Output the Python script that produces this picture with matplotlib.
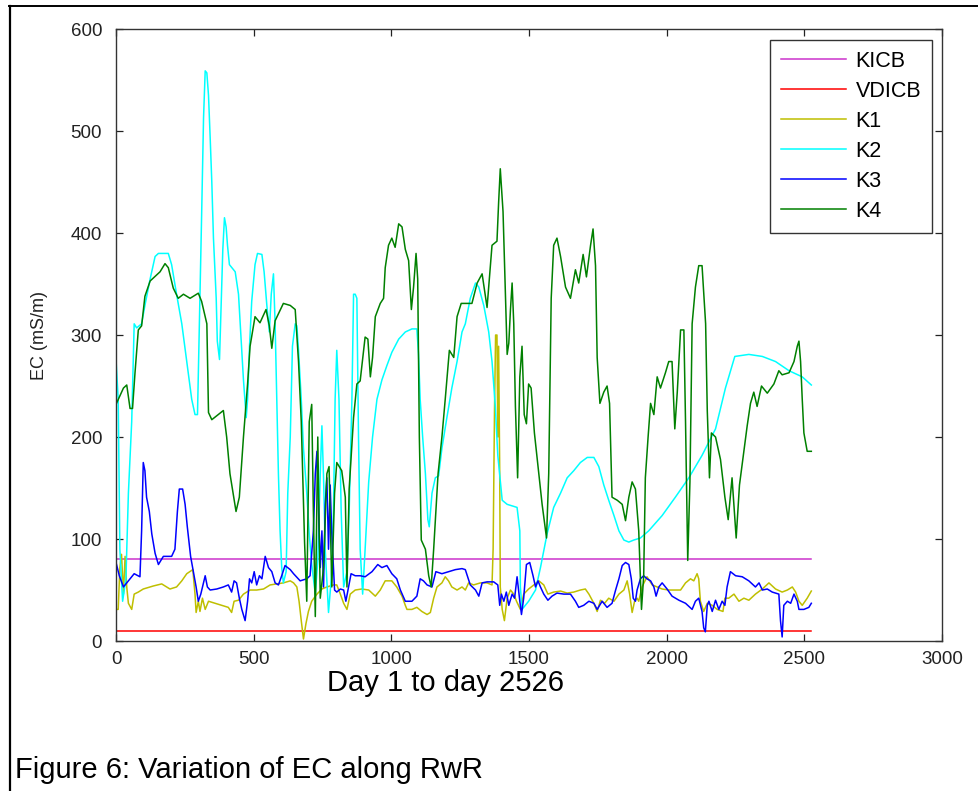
import matplotlib
matplotlib.use("Agg")
import matplotlib.pyplot as plt
from matplotlib.lines import Line2D

plt.rcParams['font.family'] = ['Liberation Sans', 'DejaVu Sans']

# ------------------------------------------
# Data (day, EC in mS/m)
# ------------------------------------------
last_day = 2526
kicb_value = 80
vdicb_value = 10

k1_days = [0, 8, 14, 20, 27, 33, 39, 45, 57, 66, 81, 99, 136, 166, 196, 220, 239, 257, 279, 287, 291,
           299, 305, 314, 324, 336, 360, 384, 408, 420, 429, 445, 463, 487, 511, 536, 560, 584, 608, 633,
           645, 657, 665, 673, 681, 690, 699, 711, 730, 748, 766, 790, 802, 815, 827, 839, 851, 869, 893,
           918, 942, 960, 978, 1002, 1020, 1039, 1051, 1057, 1075, 1093, 1111, 1130, 1142, 1154, 1166,
           1184, 1196, 1208, 1220, 1239, 1257, 1269, 1281, 1299, 1324, 1348, 1366, 1370, 1375, 1379, 1384,
           1387, 1390, 1394, 1396, 1403, 1411, 1421, 1433, 1445, 1455, 1469, 1481, 1499, 1518, 1536, 1554,
           1569, 1590, 1615, 1639, 1663, 1687, 1705, 1718, 1736, 1748, 1760, 1775, 1790, 1809, 1827, 1845,
           1857, 1866, 1875, 1884, 1893, 1899, 1911, 1929, 1948, 1966, 1984, 2008, 2032, 2051, 2069, 2087,
           2099, 2111, 2117, 2123, 2135, 2148, 2166, 2184, 2205, 2212, 2226, 2245, 2263, 2281, 2299, 2323,
           2348, 2372, 2396, 2420, 2439, 2457, 2469, 2481, 2493, 2511, 2526]
k1_vals = [31, 31, 72, 85, 46, 83, 53, 37, 31, 46, 48, 51, 54, 56, 51, 53, 59, 66, 70, 46, 28,
           39, 29, 42, 31, 39, 37, 35, 33, 28, 39, 40, 46, 50, 50, 51, 55, 56, 57, 59,
           57, 53, 39, 20, 2, 17, 29, 39, 46, 51, 53, 55, 55, 46, 37, 31, 46, 50, 51,
           50, 44, 50, 59, 59, 53, 44, 35, 31, 31, 33, 29, 26, 28, 42, 53,
           57, 63, 59, 53, 50, 53, 50, 57, 55, 57, 57, 55, 90, 226, 300, 300,
           200, 289, 164, 53, 31, 20, 42, 50, 46, 39, 31, 46, 51, 55, 59, 55,
           46, 48, 49, 47, 48, 50, 51, 46, 37, 29, 40, 37, 42, 39, 46, 50,
           59, 46, 28, 39, 42, 39, 53, 63, 55, 53, 51, 50, 50, 50, 57, 61,
           59, 66, 61, 39, 29, 37, 35, 31, 29, 42, 42, 46, 39, 42, 40, 46,
           51, 57, 51, 48, 50, 53, 48, 39, 35, 42, 49]

k2_days = [0, 8, 14, 24, 36, 45, 57, 66, 75, 93, 105, 124, 142, 154, 190, 202, 220, 239, 257, 275,
           287, 296, 303, 311, 318, 324, 330, 336, 342, 348, 354, 364, 368, 376, 382, 388, 394, 400,
           405, 412, 433, 445, 453, 463, 473, 478, 485, 493, 505, 514, 530, 538, 548, 557, 564, 572,
           578, 584, 590, 596, 602, 608, 618, 624, 633, 641, 651, 657, 663, 673, 681, 693, 702, 711,
           724, 733, 742, 748, 754, 760, 772, 782, 790, 796, 802, 810, 818, 827, 839, 847, 857, 863,
           869, 875, 881, 887, 896, 905, 918, 932, 948, 966, 984, 1002, 1027, 1051, 1075, 1093, 1099,
           1105, 1114, 1124, 1133, 1138, 1148, 1160, 1172, 1184, 1202, 1220, 1239, 1257, 1269, 1287,
           1306, 1318, 1336, 1354, 1366, 1378, 1387, 1403, 1421, 1457, 1467, 1469, 1475, 1499, 1524,
           1542, 1566, 1590, 1615, 1639, 1663, 1687, 1712, 1736, 1754, 1772, 1790, 1809, 1827, 1845,
           1863, 1881, 1905, 1935, 1984, 2032, 2081, 2129, 2178, 2214, 2248, 2299, 2348, 2396, 2445,
           2493, 2526]
k2_vals = [276, 237, 90, 39, 61, 145, 215, 311, 307, 311, 329, 355, 377, 380, 380, 369, 340, 311, 274, 237,
           222, 222, 311, 417, 513, 559, 557, 535, 494, 450, 395, 336, 294, 276, 329, 384, 415, 406,
           388, 369, 362, 340, 303, 256, 219, 237, 289, 333, 369, 380, 379, 362, 329, 303, 340, 360,
           311, 237, 164, 108, 72, 57, 68, 145, 200, 289, 311, 309, 285, 237, 189, 145, 105, 75,
           46, 79, 164, 211, 160, 90, 28, 61, 127, 237, 285, 237, 127, 53, 68, 127, 237, 340,
           340, 336, 200, 90, 46, 90, 156, 200, 237, 256, 270, 283, 296, 303, 306, 306, 281,
           237, 200, 164, 119, 112, 145, 160, 162, 189, 219, 248, 274, 303, 311, 336,
           351, 347, 329, 303, 274, 230, 182, 138, 134, 131, 108, 53, 31, 39, 50,
           72, 105, 131, 145, 160, 167, 175, 180, 180, 171, 153, 138, 123, 108, 99,
           97, 99, 101, 108, 123, 141, 160, 182, 208, 248, 279, 281, 279, 274, 265,
           259, 251]

k3_days = [0, 12, 27, 39, 51, 66, 87, 93, 99, 105, 111, 121, 130, 142, 154, 172, 202, 214, 223, 230,
           242, 251, 259, 271, 281, 291, 299, 308, 318, 324, 332, 342, 366, 390, 408, 420, 429, 438,
           448, 457, 469, 478, 485, 493, 502, 511, 521, 530, 542, 554, 566, 578, 590, 602, 614, 633,
           645, 669, 693, 705, 717, 724, 730, 736, 742, 748, 754, 760, 766, 772, 778, 784, 794, 802,
           815, 827, 835, 845, 854, 869, 887, 905, 930, 951, 966, 984, 1002, 1020, 1033, 1051, 1075,
           1093, 1105, 1117, 1130, 1148, 1162, 1184, 1208, 1233, 1257, 1269, 1287, 1306, 1318, 1330,
           1348, 1372, 1387, 1394, 1400, 1409, 1418, 1427, 1439, 1448, 1457, 1467, 1473, 1481, 1491,
           1503, 1515, 1524, 1533, 1542, 1554, 1569, 1584, 1602, 1627, 1651, 1669, 1681, 1699, 1718,
           1736, 1748, 1766, 1784, 1802, 1815, 1827, 1839, 1851, 1863, 1872, 1879, 1887, 1893, 1905,
           1917, 1929, 1942, 1954, 1962, 1972, 1984, 2002, 2020, 2045, 2069, 2093, 2105, 2117, 2129,
           2135, 2141, 2148, 2154, 2166, 2178, 2190, 2202, 2212, 2220, 2232, 2251, 2275, 2299, 2323,
           2336, 2348, 2366, 2384, 2408, 2414, 2420, 2426, 2439, 2451, 2463, 2475, 2481, 2499, 2517,
           2526]
k3_vals = [77, 64, 53, 57, 61, 66, 63, 108, 175, 167, 141, 127, 105, 86, 75, 83, 83, 90, 127, 149,
           149, 134, 112, 83, 68, 53, 39, 46, 57, 64, 53, 50, 51, 53, 55, 48, 59, 57,
           42, 31, 20, 39, 61, 57, 68, 55, 64, 61, 83, 72, 68, 57, 55, 64, 74, 70,
           66, 59, 61, 64, 108, 164, 186, 127, 72, 108, 53, 134, 160, 90, 153, 105, 50, 48,
           51, 50, 39, 53, 66, 64, 64, 63, 68, 75, 72, 74, 66, 61, 50, 39, 39,
           44, 61, 59, 55, 53, 68, 66, 68, 70, 71, 70, 55, 50, 44, 57,
           58, 58, 55, 35, 46, 39, 48, 35, 46, 42, 63, 39, 26, 42, 75,
           77, 64, 53, 59, 53, 46, 40, 44, 47, 46, 46, 39, 33, 35, 39,
           37, 31, 39, 33, 37, 50, 61, 74, 77, 75, 61, 42, 39, 50, 61,
           64, 61, 59, 53, 44, 53, 57, 51, 44, 40, 37, 31, 39, 42, 29,
           13, 9, 35, 39, 29, 40, 31, 39, 35, 53, 68, 64, 63, 59, 53,
           57, 50, 51, 48, 46, 20, 4, 35, 39, 37, 46, 39, 31, 31, 33,
           37]

k4_days = [0, 27, 39, 51, 60, 69, 81, 93, 105, 124, 160, 178, 190, 208, 226, 245, 269, 299, 311, 330,
           336, 348, 390, 402, 414, 436, 448, 463, 478, 487, 505, 523, 545, 557, 566, 578, 608, 633,
           651, 663, 673, 685, 693, 702, 711, 717, 724, 733, 742, 754, 766, 774, 784, 794, 802, 820,
           833, 839, 847, 863, 875, 887, 905, 915, 924, 932, 942, 960, 972, 978, 990, 1002, 1014,
           1027, 1039, 1051, 1063, 1073, 1081, 1090, 1096, 1102, 1109, 1124, 1136, 1145, 1154, 1170,
           1184, 1196, 1211, 1227, 1239, 1254, 1293, 1312, 1330, 1348, 1360, 1366, 1384, 1390, 1396,
           1406, 1415, 1421, 1427, 1433, 1439, 1445, 1451, 1459, 1467, 1475, 1483, 1491, 1499, 1508,
           1520, 1536, 1548, 1564, 1572, 1581, 1590, 1602, 1615, 1633, 1651, 1669, 1681, 1697, 1709,
           1724, 1733, 1742, 1748, 1758, 1772, 1784, 1793, 1802, 1821, 1839, 1851, 1863, 1875, 1887,
           1899, 1909, 1917, 1923, 1933, 1942, 1954, 1966, 1978, 1996, 2008, 2020, 2030, 2039, 2051,
           2063, 2069, 2077, 2085, 2093, 2105, 2117, 2129, 2142, 2148, 2156, 2163, 2178, 2196, 2212,
           2224, 2238, 2253, 2265, 2281, 2293, 2305, 2317, 2329, 2345, 2366, 2390, 2408, 2420, 2445,
           2463, 2475, 2481, 2487, 2493, 2499, 2511, 2526]
k4_vals = [232, 248, 251, 228, 228, 263, 305, 309, 338, 353, 362, 370, 366, 346, 336, 340, 336, 341, 333, 311,
           224, 217, 226, 200, 164, 127, 141, 200, 252, 289, 318, 312, 325, 309, 287, 314, 331, 329,
           325, 274, 215, 97, 39, 215, 232, 127, 24, 200, 42, 72, 164, 171, 53, 145, 175, 167,
           141, 53, 149, 219, 252, 255, 298, 296, 259, 278, 318, 331, 336, 366, 388, 395, 386,
           409, 406, 384, 373, 325, 347, 380, 355, 200, 99, 90, 64, 53, 90, 164,
           200, 237, 285, 278, 318, 331, 331, 351, 360, 327, 368, 388, 392, 430, 463,
           421, 336, 281, 292, 325, 351, 311, 230, 160, 259, 289, 222, 213, 252, 248,
           204, 164, 134, 101, 164, 336, 388, 395, 377, 347, 336, 364, 351, 379, 357,
           388, 404, 368, 278, 233, 244, 250, 233, 141, 138, 134, 118, 141, 156, 149,
           108, 31, 64, 160, 200, 233, 222, 259, 248, 263, 274, 274, 208, 244, 305,
           305, 215, 79, 156, 311, 347, 368, 368, 311, 226, 160, 204, 200, 178, 141,
           119, 160, 101, 153, 186, 211, 233, 244, 230, 250, 243, 252, 265, 261, 263,
           274, 289, 294, 274, 237, 204, 186, 186]

# ------------------------------------------
# Figure
# ------------------------------------------
fig = plt.figure(figsize=(9.79, 7.91), dpi=100)
ax = fig.add_axes([0.1185, 0.1896, 0.8435, 0.7737])

lw = 1.1
ax.plot([1, last_day], [kicb_value, kicb_value], color='#cc33cc', lw=lw, label='KICB')
ax.plot([1, last_day], [vdicb_value, vdicb_value], color='#ff0000', lw=lw, label='VDICB')
ax.plot(k1_days, k1_vals, color='#bfbf00', lw=lw, label='K1')
ax.plot(k2_days, k2_vals, color='#00ffff', lw=lw, label='K2')
ax.plot(k3_days, k3_vals, color='#0000ff', lw=lw, label='K3')
ax.plot(k4_days, k4_vals, color='#008000', lw=lw, label='K4')

ax.set_xlim(0, 3000)
ax.set_ylim(0, 600)
ax.set_xticks(range(0, 3001, 500))
ax.set_yticks(range(0, 601, 100))
ax.tick_params(direction='in', length=5, width=0.9, top=True, right=True,
               labelsize=13.5, colors='#222222')
ax.tick_params(axis='x', pad=7)
ax.tick_params(axis='y', pad=10)
for s in ax.spines.values():
    s.set_linewidth(1.0)
    s.set_color('#333333')

leg = ax.legend(loc='upper right', bbox_to_anchor=(0.988, 0.982), borderaxespad=0,
                fontsize=15.5, fancybox=False, framealpha=1, edgecolor='#333333',
                handlelength=3.0, handletextpad=0.45, labelspacing=0.42, borderpad=0.5)
leg.get_frame().set_linewidth(1.0)

fig.text(40 / 979, 1 - 335 / 791, 'EC (mS/m)', rotation=90, ha='center', va='center',
         fontsize=13, color='#222222')
fig.text(446 / 979, 1 - 683 / 791, 'Day 1 to day 2526', ha='center', va='center', fontsize=21)
fig.text(15 / 979, 1 - 770 / 791, 'Figure 6: Variation of EC along RwR', ha='left', va='center',
         fontsize=21)

# outer frame (top and left edges only)
fig.add_artist(Line2D([9 / 979, 1.0], [1 - 5.5 / 791, 1 - 5.5 / 791], color='black', lw=1.4))
fig.add_artist(Line2D([9.5 / 979, 9.5 / 979], [0, 1 - 5.5 / 791], color='black', lw=1.6))

fig.savefig('out.png', dpi=100)
